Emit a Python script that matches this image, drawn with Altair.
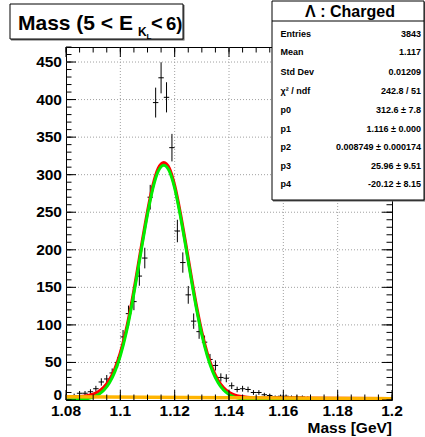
import altair as alt
import pandas as pd

# ---------------- data ----------------
bin_lo = 1.08
bin_width = 0.002
counts = [4, 6, 9, 9, 11, 15, 24, 28, 36, 50,
          84, 115, 131, 165, 189, 270, 396, 429, 403, 336,
          225, 183, 140, 105, 91, 77, 54, 46, 30, 29,
          19, 14, 15, 14, 10, 10, 7, 6, 4, 5,
          5, 4, 4, 4, 3, 2, 2, 1, 1, 0,
          1, 1, 0, 1, 1, 0, 1, 1, 0, 1]

curve_x = [1.080, 1.082, 1.084, 1.086, 1.088, 1.090, 1.092, 1.094, 1.096, 1.098,
           1.100, 1.102, 1.104, 1.106, 1.108, 1.110, 1.112, 1.114, 1.116, 1.118,
           1.120, 1.122, 1.124, 1.126, 1.128, 1.130, 1.132, 1.134, 1.136, 1.138,
           1.140, 1.142, 1.144, 1.146, 1.148, 1.150, 1.160, 1.180, 1.200]
green_y = [0.1, 0.2, 0.4, 0.9, 1.9, 3.8, 7.3, 13.2, 22.9, 37.7,
           58.7, 86.9, 122, 163, 206, 247, 282, 305, 312.6, 305,
           282, 247, 206, 163, 122, 86.9, 58.7, 37.7, 22.9, 13.2,
           7.3, 3.8, 1.9, 0.9, 0.4, 0.2, 0, 0, 0]
red_y = [4.3, 4.4, 4.5, 5.0, 6.0, 7.8, 11.3, 17.1, 26.8, 41.6,
         62.5, 90.7, 125.7, 166.7, 209.7, 250.6, 285.6, 308.5, 316.1, 308.5,
         285.4, 250.4, 209.3, 166.3, 125.3, 90.1, 61.9, 40.8, 26.0, 16.3,
         10.3, 6.8, 4.8, 3.8, 3.3, 3.0, 2.6, 2.2, 1.8]
bg_x = [1.08, 1.20]
bg_y = [4.2, 1.8]

x_ticks = [1.08, 1.10, 1.12, 1.14, 1.16, 1.18, 1.20]
x_labels = ["1.08", "1.1", "1.12", "1.14", "1.16", "1.18", "1.2"]
y_ticks = [0, 50, 100, 150, 200, 250, 300, 350, 400, 450]
y_labels = ["0", "50", "100", "150", "200", "250", "300", "350", "400", "450"]

stat_title = "\u039b : Charged"
stat_labels = ["Entries", "Mean", "Std Dev", "\u03c7\u00b2 / ndf", "p0", "p1", "p2", "p3", "p4"]
stat_values = ["3843", "1.117", "0.01209", "242.8 / 51", "312.6 \u00b1 7.8",
               "1.116 \u00b1 0.000", "0.008749 \u00b1 0.000174", "25.96 \u00b1 9.51",
               "-20.12 \u00b1 8.15"]

# ---------------- layout ----------------
W, H = 326, 353
FONT = "Liberation Sans"

hist = pd.DataFrame({
    "c": [bin_lo + bin_width * (i + 0.5) for i in range(len(counts))],
    "n": counts,
})
hist = hist[hist["n"] > 0]
green = pd.DataFrame({"x": curve_x, "y": green_y})
red = pd.DataFrame({"x": curve_x, "y": red_y})
bg = pd.DataFrame({"x": bg_x, "y": bg_y})

xs = alt.Scale(domain=[1.08, 1.2], nice=False, zero=False)
ys = alt.Scale(domain=[0, 470], nice=False)

# grid lines (dotted) at major ticks
xgrid = alt.Chart(pd.DataFrame({"v": x_ticks[1:-1]})).mark_rule(
    color="#a0a0a0", strokeWidth=1, strokeDash=[1, 2]).encode(
    x=alt.X("v:Q", scale=xs, axis=None), y=alt.value(0), y2=alt.value(H))
ygrid = alt.Chart(pd.DataFrame({"v": y_ticks[1:]})).mark_rule(
    color="#a0a0a0", strokeWidth=1, strokeDash=[1, 2]).encode(
    y=alt.Y("v:Q", scale=ys, axis=None), x=alt.value(0), x2=alt.value(W))

base = alt.Chart(hist).transform_calculate(
    lo="datum.n - sqrt(datum.n)", hi="datum.n + sqrt(datum.n)",
    l="datum.c - %f" % (bin_width / 2), r="datum.c + %f" % (bin_width / 2))

vbars = base.mark_rule(color="black", strokeWidth=1, clip=True).encode(
    x=alt.X("c:Q", scale=xs, axis=None),
    y=alt.Y("lo:Q", scale=ys, axis=None),
    y2="hi:Q")
hbars = base.mark_rule(color="black", strokeWidth=1, clip=True).encode(
    x=alt.X("l:Q", scale=xs, axis=None),
    x2="r:Q",
    y=alt.Y("n:Q", scale=ys, axis=None))

def curve(df, color, width):
    return alt.Chart(df).mark_line(color=color, strokeWidth=width, clip=True,
                                   interpolate="monotone").encode(
        x=alt.X("x:Q", scale=xs, axis=None),
        y=alt.Y("y:Q", scale=ys, axis=None))

red_line = curve(red, "#ff0000", 3.2)
green_line = curve(green, "#00ee00", 3.0)
bg_line = curve(bg, "#ffb400", 3.5)

# inward ROOT-style ticks
x_minor = [round(1.08 + 0.005 * i, 3) for i in range(25)]
y_minor = list(range(0, 471, 10))
xmaj = pd.DataFrame({"v": x_ticks})
xmin = pd.DataFrame({"v": x_minor})
ymaj = pd.DataFrame({"v": y_ticks})
ymin = pd.DataFrame({"v": y_minor})

def xtick(df, y1, y2):
    return alt.Chart(df).mark_rule(color="black", strokeWidth=1).encode(
        x=alt.X("v:Q", scale=xs, axis=None), y=alt.value(y1), y2=alt.value(y2))

def ytick(df, x1, x2):
    return alt.Chart(df).mark_rule(color="black", strokeWidth=1).encode(
        y=alt.Y("v:Q", scale=ys, axis=None), x=alt.value(x1), x2=alt.value(x2))

ticks = [xtick(xmaj, H, H - 10), xtick(xmin, H, H - 5.5),
         xtick(xmaj, 0, 10), xtick(xmin, 0, 5.5),
         ytick(ymaj, 0, 10), ytick(ymin, 0, 5.5),
         ytick(ymaj, W, W - 10), ytick(ymin, W, W - 5.5)]

# tick labels
xlab = alt.Chart(pd.DataFrame({"v": x_ticks, "t": x_labels})).mark_text(
    font=FONT, fontSize=15.5, fontWeight="bold", align="center",
    baseline="alphabetic", color="black").encode(
    x=alt.X("v:Q", scale=xs, axis=None), y=alt.value(H + 16), text="t:N")
ylab_df = pd.DataFrame({"v": y_ticks, "t": y_labels})
ylab = alt.Chart(ylab_df[ylab_df["v"] > 0]).mark_text(
    font=FONT, fontSize=15.5, fontWeight="bold", align="right",
    baseline="middle", color="black").encode(
    y=alt.Y("v:Q", scale=ys, axis=None), x=alt.value(-4), text="t:N")
ylab0 = alt.Chart(ylab_df[ylab_df["v"] == 0]).mark_text(
    font=FONT, fontSize=15.5, fontWeight="bold", align="right",
    baseline="alphabetic", color="black").encode(
    y=alt.Y("v:Q", scale=ys, axis=None), x=alt.value(-4), text="t:N")

one = pd.DataFrame({"a": [0]})

def rect(x1, x2, y1, y2, fill="white", stroke="black", sw=1):
    return alt.Chart(one).mark_rect(fill=fill, stroke=stroke, strokeWidth=sw).encode(
        x=alt.value(x1), x2=alt.value(x2), y=alt.value(y1), y2=alt.value(y2))

def text(t, x, y, size, align="left", baseline="alphabetic", weight="bold"):
    return alt.Chart(one).mark_text(text=t, font=FONT, fontSize=size,
                                    fontWeight=weight, align=align,
                                    baseline=baseline, color="black").encode(
        x=alt.value(x), y=alt.value(y))

# title box (top-left)
title_layers = [
    rect(-55, 118.5, -42, -6.5, fill="#666666", stroke="#666666", sw=0),
    rect(-56, 117, -43, -8),
    text("Mass (5 < E", -48, -17, 21),
    text("K", 72, -11, 12),
    text("L", 80.5, -8.5, 8),
    text("<", 85, -17, 20),
    text("6)", 100, -17, 18.5),
]

# stats box (top-right)
stat_layers = [
    rect(207, 359.5, -45, 154.5, fill="#666666", stroke="#666666", sw=0),
    rect(206, 358, -46, 153),
    alt.Chart(one).mark_rule(color="black", strokeWidth=1).encode(
        x=alt.value(206), x2=alt.value(358), y=alt.value(-26)),
    text(stat_title, 284, -35, 16, align="center", baseline="middle"),
]
row_y = [34, 52.3, 71.7, 91.3, 110.3, 128.7, 147, 165.7, 184]
for lab, val, ry in zip(stat_labels, stat_values, row_y):
    stat_layers.append(text(lab, 214.5, ry - 47, 9, baseline="middle"))
    stat_layers.append(text(val, 355, ry - 47, 9, align="right", baseline="middle"))

xtitle = text("Mass [GeV]", W, 386, 15.5, align="right")

chart = alt.layer(
    xgrid, ygrid, vbars, hbars, red_line, green_line, bg_line, *ticks,
    xlab, ylab, ylab0, *title_layers, *stat_layers, xtitle
).properties(
    width=W, height=H,
    autosize=alt.AutoSizeParams(type="none"),
    padding={"left": 66, "top": 47, "right": 33, "bottom": 37},
).configure_view(stroke="black", strokeWidth=1)

chart.save("out.html", embed_options={"renderer": "svg", "actions": False})
